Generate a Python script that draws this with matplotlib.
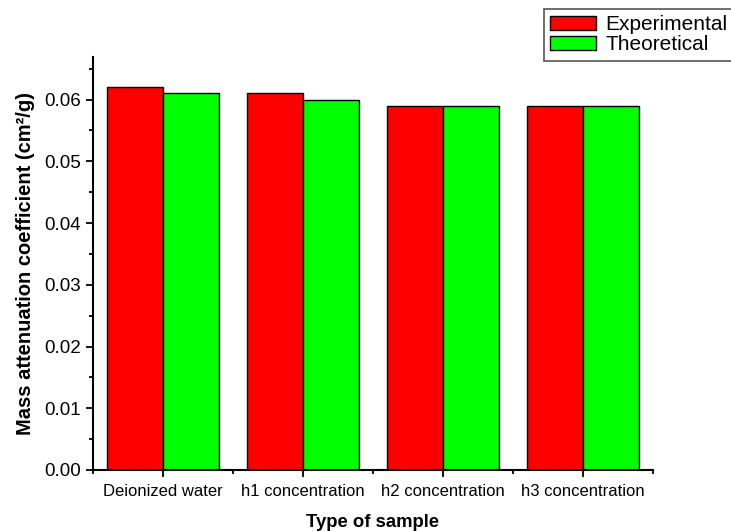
import numpy as np
import matplotlib
matplotlib.use("Agg")
import matplotlib.pyplot as plt
from matplotlib.ticker import MultipleLocator

plt.rcParams['font.family'] = ['Liberation Sans', 'DejaVu Sans']

samples = ['Deionized water', 'h1 concentration', 'h2 concentration', 'h3 concentration']
experimental = [0.062, 0.061, 0.059, 0.059]
theoretical = [0.061, 0.060, 0.059, 0.059]

x = np.arange(1, len(samples) + 1)
w = 0.4

fig = plt.figure(figsize=(7.31, 5.31), dpi=100)
ax = fig.add_axes([93/731, 61/531, 560/731, 413/531])

ax.bar(x - w/2, experimental, w, color='#ff0000', edgecolor='black', linewidth=1, label='Experimental')
ax.bar(x + w/2, theoretical, w, color='#00ff00', edgecolor='black', linewidth=1, label='Theoretical')

ax.set_xlim(0.5, 4.5)
ax.set_ylim(0, 0.0669)
ax.set_xticks(x)
ax.set_xticklabels(samples)
ax.xaxis.set_minor_locator(MultipleLocator(1, offset=0.5))
ax.yaxis.set_major_locator(MultipleLocator(0.01))
ax.yaxis.set_minor_locator(MultipleLocator(0.005))
ax.yaxis.set_major_formatter(matplotlib.ticker.FormatStrFormatter('%.2f'))

for s in ['top', 'right']:
    ax.spines[s].set_visible(False)
for s in ['left', 'bottom']:
    ax.spines[s].set_linewidth(1.5)

ax.tick_params(which='major', direction='out', length=5, width=1.3, pad=4)
ax.tick_params(which='minor', direction='out', length=3, width=1.3)
ax.tick_params(axis='x', which='major', pad=5, labelsize=12)
ax.tick_params(axis='y', which='major', labelsize=13.5)

ax.set_xlabel('Type of sample', fontsize=13.3, fontweight='bold', labelpad=11)
ax.set_ylabel('Mass attenuation coefficient (cm\u00b2/g)', fontsize=14.5, fontweight='bold', labelpad=6)

leg = fig.legend(loc='upper left', bbox_to_anchor=(544/731, 1 - 9/531), borderaxespad=0,
                 fontsize=15, handlelength=2.2, handleheight=0.72, handletextpad=0.45,
                 labelspacing=0.05, borderpad=0.3, fancybox=False, framealpha=1)
leg.get_frame().set_edgecolor('#555555')
leg.get_frame().set_linewidth(1.2)

plt.savefig('out.png', dpi=100, facecolor='w')
